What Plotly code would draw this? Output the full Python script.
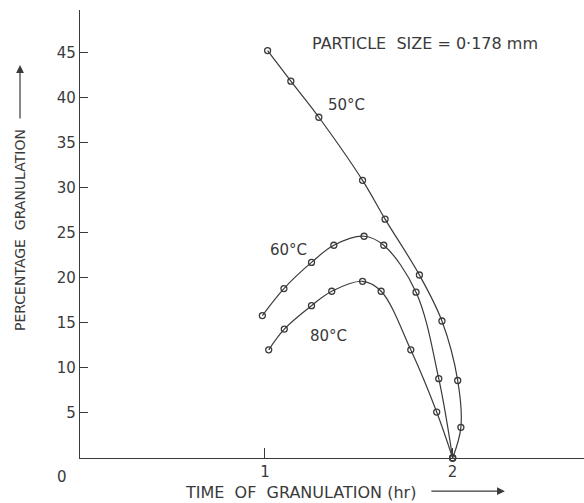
import plotly.graph_objects as go

# Data (time in hr, percentage granulation)
t50 = [1.014, 1.138, 1.287, 1.52, 1.64, 1.823, 1.943, 2.027, 2.044, 2.0]
g50 = [45.2, 41.8, 37.8, 30.8, 26.5, 20.3, 15.2, 8.6, 3.4, 0.0]

t60 = [0.986, 1.101, 1.248, 1.367, 1.528, 1.633, 1.805, 1.926, 2.0]
g60 = [15.8, 18.8, 21.7, 23.6, 24.6, 23.6, 18.4, 8.8, 0.0]

t80 = [1.02, 1.103, 1.248, 1.356, 1.52, 1.619, 1.777, 1.915, 2.0]
g80 = [12.0, 14.3, 16.9, 18.5, 19.6, 18.5, 12.0, 5.1, 0.0]

series_labels = ["50°C", "60°C", "80°C"]
x_tickvals = [1, 2]
x_ticktext = ["1", "2"]
y_tickvals = [5, 10, 15, 20, 25, 30, 35, 40, 45]

INK = "#3a3a3a"
FONT = "DejaVu Sans"

fig = go.Figure()
for tx, gy, name in zip([t50, t60, t80], [g50, g60, g80], series_labels):
    fig.add_trace(go.Scatter(
        x=tx, y=gy, name=name, mode="lines+markers",
        line=dict(color=INK, width=1.2, shape="spline", smoothing=1.0),
        marker=dict(symbol="circle-open", size=6, color=INK, line=dict(width=1.3, color=INK)),
        cliponaxis=False, showlegend=False,
    ))

fig.update_layout(
    width=584, height=503,
    margin=dict(l=80, r=0, t=10, b=45),
    paper_bgcolor="white", plot_bgcolor="white",
    font=dict(family=FONT, color=INK, size=14),
    xaxis=dict(range=[0.0144, 2.70], showgrid=False, zeroline=False,
               showline=True, linecolor=INK, linewidth=1.2,
               tickvals=x_tickvals, ticktext=x_ticktext,
               ticks="inside", ticklen=10, tickcolor=INK, tickwidth=1.2,
               tickfont=dict(size=15, color=INK, family=FONT)),
    yaxis=dict(range=[0, 49.7], showgrid=False, zeroline=False,
               showline=True, linecolor=INK, linewidth=1.2,
               tickvals=y_tickvals,
               ticks="inside", ticklen=8, tickcolor=INK, tickwidth=1.2,
               tickfont=dict(size=15, color=INK, family=FONT)),
)

ann = []
# origin label
ann.append(dict(xref="paper", yref="paper", x=0, y=0, text="0", showarrow=False,
                xanchor="center", yanchor="middle", xshift=-18, yshift=-19,
                font=dict(size=15, color=INK)))
# curve labels
ann.append(dict(x=1.437, y=39.2, text="50°C", showarrow=False, font=dict(size=15, color=INK)))
ann.append(dict(x=1.128, y=23.1, text="60°C", showarrow=False, font=dict(size=15, color=INK)))
ann.append(dict(x=1.341, y=13.5, text="80°C", showarrow=False, font=dict(size=15, color=INK)))
# particle size note
ann.append(dict(xref="paper", yref="paper", x=0.685, y=0.926, text="PARTICLE  SIZE = 0·178 mm",
                xanchor="center", yanchor="middle",
                showarrow=False, font=dict(size=16, color=INK)))
# y title and arrow
ann.append(dict(xref="paper", yref="paper", x=-0.119, y=0.509, text="PERCENTAGE  GRANULATION",
                xanchor="center", yanchor="middle",
                textangle=-90, showarrow=False, font=dict(size=14, color=INK)))
ann.append(dict(xref="paper", yref="paper", x=-0.119, y=0.877, text="", showarrow=True,
                ax=0, ay=55, arrowhead=2, arrowsize=1.3, arrowwidth=1.2, arrowcolor=INK))
# x title and arrow
ann.append(dict(xref="paper", yref="paper", x=0.437, y=-0.076, text="TIME  OF  GRANULATION (hr)",
                xanchor="center", yanchor="middle",
                showarrow=False, font=dict(size=16, color=INK)))
ann.append(dict(xref="paper", yref="paper", x=0.843, y=-0.074, text="", showarrow=True,
                ax=-75, ay=0, arrowhead=2, arrowsize=1.3, arrowwidth=1.2, arrowcolor=INK))
fig.update_layout(annotations=ann)

fig.write_html("out.html")
